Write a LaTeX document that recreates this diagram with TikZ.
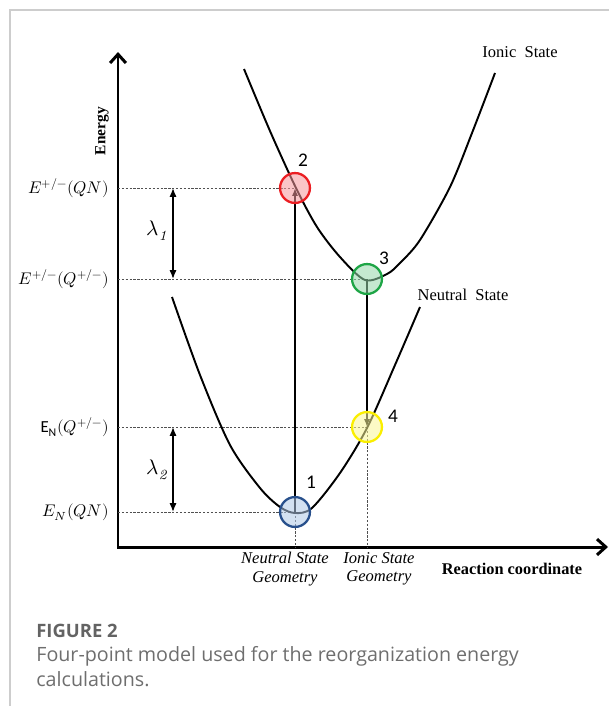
\documentclass[tikz,border=0pt]{standalone}
\usepackage{fontspec}
\usepackage{unicode-math}
\setmathfont{Latin Modern Math}
\usepackage{tikz}
\usetikzlibrary{arrows.meta}
\usetikzlibrary{calc}
\newfontfamily\serifrm{Liberation Serif}
\newfontfamily\capfont{Open Sans}
\newfontfamily\numfont{Carlito}
\definecolor{framegray}{RGB}{205,205,205}
\definecolor{dashgray}{RGB}{80,80,80}
\definecolor{captiongray}{RGB}{110,110,110}
\definecolor{redring}{RGB}{235,30,35}
\definecolor{redfill}{RGB}{245,150,155}
\definecolor{greenring}{RGB}{30,165,70}
\definecolor{greenfill}{RGB}{150,215,170}
\definecolor{yellowring}{RGB}{250,238,0}
\definecolor{yellowfill}{RGB}{250,245,150}
\definecolor{bluering}{RGB}{40,80,140}
\definecolor{bluefill}{RGB}{175,200,230}
\newcommand{\drawlevel}{\draw[dashgray, line width=0.5pt, dash pattern=on 1.3pt off 0.9pt]}
\newcommand{\drawarrow}{\draw[line width=0.9pt, -{Latex[length=4.5pt,width=3.5pt]}]}

\tikzset{
  point/.style={circle, minimum size=17pt, inner sep=0pt, line width=1.3pt, fill opacity=0.55},
  levellabel/.style={anchor=east, inner sep=1pt, font=\fontsize{9.6}{11}\selectfont},
  statelabel/.style={font=\serifrm\fontsize{9.4}{11}\selectfont},
  geomlabel/.style={align=center, font=\serifrm\itshape\fontsize{9.4}{10.5}\selectfont},
  numlabel/.style={font=\numfont\fontsize{11}{12}\selectfont}
}

\begin{document}
\begin{tikzpicture}[x=0.02cm, y=-0.02cm]
    \useasboundingbox (0,0) rectangle (609,706);

    % Draw frame
    \draw[framegray, line width=0.6pt] (609,10) -- (10,10) -- (10,706);

    % Axes
    \coordinate (o) at (118,547);
    \coordinate (ytip) at (118,52);
    \coordinate (xtip) at (608,547);
    \draw[line width=1.7pt, {Straight Barb[length=5pt,width=9pt]}-{Straight Barb[length=5pt,width=9pt]}]
        (ytip) -- (o) -- (xtip);

    % Points
    \coordinate (c1) at (295,512);
    \coordinate (c2) at (295,188);
    \coordinate (c3) at (367,279);
    \coordinate (c4) at (367,427);

    % Draw levels
    \coordinate (l1) at (118,512);
    \coordinate (l2) at (118,188);
    \coordinate (l3) at (118,279);
    \coordinate (l4) at (118,427);
    \coordinate (g1) at (295,547);
    \coordinate (g4) at (367,547);
    \drawlevel (l1) -- (c1);
    \drawlevel (l2) -- (c2);
    \drawlevel (l3) -- (c3);
    \drawlevel (l4) -- (c4);
    \drawlevel (c1) -- (g1);
    \drawlevel (c4) -- (g4);

    % Curves
    \draw[line width=1.1pt] plot[smooth] coordinates {(244,69) (270,131) (296,188) (317,227) (340,257) (365,280) (387,274) (400,263) (420,240) (450,187) (472,133) (495,73)};
    \draw[line width=1.1pt] plot[smooth] coordinates {(172,297) (200,375) (230,445) (260,488) (280,507) (295,513) (312,508) (340,473) (367,428) (395,365) (420,307)};

    % Transitions
    \drawarrow (c1) -- (c2);
    \drawarrow (c3) -- (c4);

    % Reorganization energies
    \coordinate (a1) at (173,188);
    \coordinate (b1) at (173,279);
    \coordinate (a2) at (173,427);
    \coordinate (b2) at (173,512);
    \draw[line width=0.8pt, {Latex[length=5pt,width=4pt]}-{Latex[length=5pt,width=4pt]}] (a1) -- (b1);
    \draw[line width=0.8pt, {Latex[length=5pt,width=4pt]}-{Latex[length=5pt,width=4pt]}] (a2) -- (b2);
    \node[font=\fontsize{12}{13}\selectfont] (lam1) at (157,231) {$\lambda_{\mathit{1}}$};
    \node[font=\fontsize{12}{13}\selectfont] (lam2) at (157,470) {$\lambda_{\mathit{2}}$};

    % Circles
    \node[point, draw=bluering, fill=bluefill] (p1) at (c1) {};
    \node[point, draw=redring, fill=redfill] (p2) at (c2) {};
    \node[point, draw=greenring, fill=greenfill] (p3) at (c3) {};
    \node[point, draw=yellowring, fill=yellowfill] (p4) at (c4) {};
    \node[numlabel] (n1) at (311,482) {1};
    \node[numlabel] (n2) at (303,160) {2};
    \node[numlabel] (n3) at (384,258) {3};
    \node[numlabel] (n4) at (393,416) {4};

    % Energy labels
    \node[levellabel] (e2) at (l2) [xshift=-4pt] {$E^{+/-}(QN)$};
    \node[levellabel] (e3) at (l3) [xshift=-4pt] {$E^{+/-}(Q^{+/-})$};
    \node[levellabel] (e4) at (l4) [xshift=-4pt] {$\textnormal{\numfont E}_{\textnormal{\numfont N}}(Q^{+/-})$};
    \node[levellabel] (e1) at (l1) [xshift=-4pt] {$E_N(QN)$};

    % Axis labels
    \node[rotate=90, font=\serifrm\bfseries\fontsize{8.8}{10}\selectfont] (energy) at (102,131) {Energy};
    \node[font=\serifrm\bfseries\fontsize{9.3}{11}\selectfont] (rc) at (512,569) {Reaction coordinate};
    \node[geomlabel] (ng) at (285,569) {Neutral State\\Geometry};
    \node[geomlabel] (ig) at (379,569) {Ionic State\\Geometry};
    \node[statelabel] (ionic) at (520,52) {Ionic\ \ State};
    \node[statelabel] (neutral) at (463,295) {Neutral\ \ State};

    % Caption
    \node[anchor=west, inner sep=0pt, text=captiongray!90!black, font=\capfont\bfseries\fontsize{10.5}{12}\selectfont] (fig) at (36,631) {FIGURE 2};
    \node[anchor=north west, inner sep=0pt, align=left, text=captiongray, font=\capfont\fontsize{11.2}{14.2}\selectfont] (cap) at (36,646) {Four-point model used for the reorganization energy\\calculations.};
\end{tikzpicture}
\end{document}
